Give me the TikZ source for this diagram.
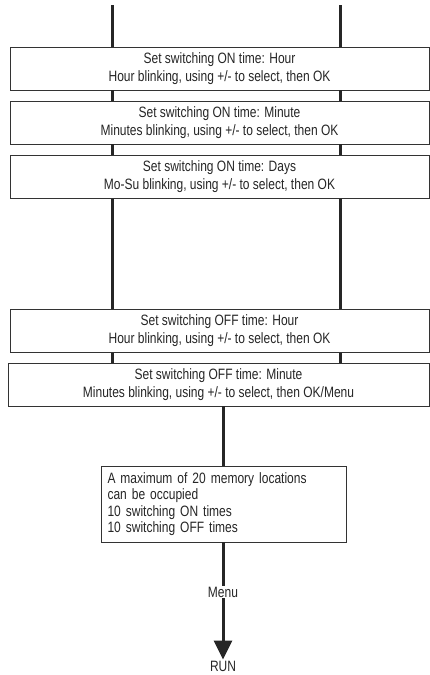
\documentclass[tikz,border=0pt]{standalone}
\usepackage{fontspec}
\setmainfont[FakeStretch=0.8]{Liberation Sans}
\usetikzlibrary{arrows.meta}
\begin{document}
\begin{tikzpicture}[x=1pt,y=-1pt,
  wbox/.style={draw=black!80,line width=0.9pt,fill=white,inner sep=0pt,align=center,
    font=\fontsize{15}{18}\selectfont,text=black!85},
  flow/.style={line width=3pt,draw=black!85},
  lbl/.style={font=\fontsize{15}{18}\selectfont,text=black!85,inner sep=1pt}]
\useasboundingbox (0,0) rectangle (430,675);
\coordinate (L) at (112,0);
\coordinate (R) at (340,0);
\coordinate (tl) at (112,5);
\coordinate (tr) at (340,5);
\node[wbox,minimum width=419pt,minimum height=43pt] (b1) at (219.5,68.5)
  {Set switching ON time: Hour\\Hour blinking, using +/- to select, then OK};
\node[wbox,minimum width=419pt,minimum height=43pt] (b2) at (219.5,122.5)
  {Set switching ON time: Minute\\Minutes blinking, using +/- to select, then OK};
\node[wbox,minimum width=419pt,minimum height=43pt] (b3) at (219.5,177)
  {Set switching ON time: Days\\Mo-Su blinking, using +/- to select, then OK};
\node[wbox,minimum width=419pt,minimum height=43pt] (b4) at (219.5,331)
  {Set switching OFF time: Hour\\Hour blinking, using +/- to select, then OK};
\node[wbox,minimum width=421pt,minimum height=43pt] (b5) at (218.5,384.5)
  {Set switching OFF time: Minute\\Minutes blinking, using +/- to select, then OK/Menu};
\node[wbox,minimum width=245pt,minimum height=76pt,align=left,text width=233pt,
  font=\fontsize{15}{16.5}\selectfont] (b6) at (224,504)
  {A maximum of 20 memory locations\\can be occupied\\10 switching ON times\\10 switching OFF times};
\node[lbl] (menu) at (223,592) {Menu};
\node[lbl] (run) at (223,666) {RUN};
\draw[flow] (tl) -- (b1.north -| L);
\draw[flow] (tr) -- (b1.north -| R);
\draw[flow] (b1.south -| L) -- (b2.north -| L);
\draw[flow] (b1.south -| R) -- (b2.north -| R);
\draw[flow] (b2.south -| L) -- (b3.north -| L);
\draw[flow] (b2.south -| R) -- (b3.north -| R);
\draw[flow] (b3.south -| L) -- (b4.north -| L);
\draw[flow] (b3.south -| R) -- (b4.north -| R);
\draw[flow] (b4.south -| L) -- (b5.north -| L);
\draw[flow] (b4.south -| R) -- (b5.north -| R);
\draw[flow] (b5.south -| menu) -- (b6.north -| menu);
\draw[flow] (b6.south -| menu) -- (menu.north);
\draw[flow,-{Triangle[width=18pt,length=19pt]}] (menu.south) -- (run.north);
\end{tikzpicture}
\end{document}
